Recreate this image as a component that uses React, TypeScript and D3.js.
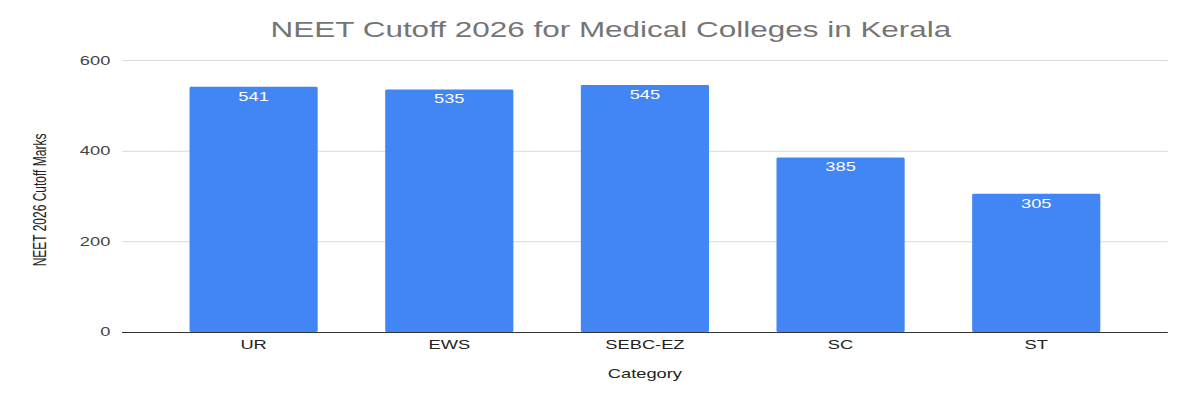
import { useEffect, useRef } from 'react';
import * as d3 from 'd3';

const categories = ['UR', 'EWS', 'SEBC-EZ', 'SC', 'ST'];
const cutoffMarks = [541, 535, 545, 385, 305];
const yTicks = [0, 200, 400, 600];

const title = 'NEET Cutoff 2026 for Medical Colleges in Kerala';
const xTitle = 'Category';
const yTitle = 'NEET 2026 Cutoff Marks';

// the reference looks stretched sideways, so draw in a narrower box and let the svg stretch it
const width = 1200;
const height = 400;
const innerWidth = 820;
const margin = { top: 60, right: 22, bottom: 68, left: 83.4 };
const font = "Arial, 'Liberation Sans', sans-serif";

export default function App() {
  const svgRef = useRef<SVGSVGElement>(null);

  useEffect(() => {
    if (!svgRef.current) return;

    const svg = d3.select(svgRef.current);
    svg.selectAll('*').remove();

    const chartWidth = innerWidth - margin.left - margin.right;
    const chartHeight = height - margin.top - margin.bottom;

    const g = svg
      .append('g')
      .attr('transform', `translate(${margin.left},${margin.top})`);

    const xScale = d3
      .scaleBand()
      .domain(categories)
      .range([0, chartWidth])
      .padding(0.345);

    const yScale = d3.scaleLinear().domain([0, 600]).range([chartHeight, 0]);

    // grid lines
    g.append('g')
      .selectAll('line')
      .data(yTicks.filter((t) => t !== 0))
      .enter()
      .append('line')
      .attr('x1', 0)
      .attr('x2', chartWidth)
      .attr('y1', (d) => yScale(d) + 0.5)
      .attr('y2', (d) => yScale(d) + 0.5)
      .attr('stroke', '#d9d9d9')
      .attr('stroke-width', 1);

    // y tick labels
    g.append('g')
      .selectAll('text')
      .data(yTicks)
      .enter()
      .append('text')
      .attr('x', -8)
      .attr('y', (d) => yScale(d) + 4.5)
      .attr('text-anchor', 'end')
      .attr('font-family', font)
      .attr('font-size', '12.5px')
      .attr('fill', '#444')
      .text((d) => d);

    // bars
    g.selectAll('rect.bar')
      .data(cutoffMarks)
      .enter()
      .append('rect')
      .attr('class', 'bar')
      .attr('x', (_, i) => xScale(categories[i])!)
      .attr('y', (d) => yScale(d))
      .attr('width', xScale.bandwidth())
      .attr('height', (d) => chartHeight - yScale(d))
      .attr('fill', '#4285f4')
      .attr('rx', 1.2);

    // value labels inside bars
    g.selectAll('text.value')
      .data(cutoffMarks)
      .enter()
      .append('text')
      .attr('class', 'value')
      .attr('x', (_, i) => xScale(categories[i])! + xScale.bandwidth() / 2)
      .attr('y', (d) => yScale(d) + 14)
      .attr('text-anchor', 'middle')
      .attr('font-family', font)
      .attr('font-size', '12.5px')
      .attr('fill', '#ffffff')
      .text((d) => d);

    // baseline
    g.append('line')
      .attr('x1', 0)
      .attr('x2', chartWidth)
      .attr('y1', yScale(0) + 0.5)
      .attr('y2', yScale(0) + 0.5)
      .attr('stroke', '#333')
      .attr('stroke-width', 1);

    // x category labels
    g.append('g')
      .selectAll('text')
      .data(categories)
      .enter()
      .append('text')
      .attr('x', (d) => xScale(d)! + xScale.bandwidth() / 2)
      .attr('y', chartHeight + 17)
      .attr('text-anchor', 'middle')
      .attr('font-family', font)
      .attr('font-size', '12.5px')
      .attr('fill', '#222')
      .text((d) => d);

    // axis titles
    g.append('text')
      .attr('x', chartWidth / 2)
      .attr('y', chartHeight + 46)
      .attr('text-anchor', 'middle')
      .attr('font-family', font)
      .attr('font-size', '12.5px')
      .attr('fill', '#222')
      .text(xTitle);

    svg
      .append('text')
      .attr('transform', `translate(31.5,${margin.top + chartHeight / 2 + 4}) rotate(-90)`)
      .attr('text-anchor', 'middle')
      .attr('font-family', font)
      .attr('font-size', '12px')
      .attr('fill', '#222')
      .text(yTitle);

    // chart title
    svg
      .append('text')
      .attr('x', 417.5)
      .attr('y', 37)
      .attr('text-anchor', 'middle')
      .attr('font-family', font)
      .attr('font-size', '21.5px')
      .attr('fill', '#757575')
      .text(title);
  }, []);

  return (
    <svg
      ref={svgRef}
      width={width}
      height={height}
      viewBox={`0 0 ${innerWidth} ${height}`}
      preserveAspectRatio="none"
      style={{ position: 'absolute', left: 0, top: 0, background: '#fff' }}
    />
  );
}
